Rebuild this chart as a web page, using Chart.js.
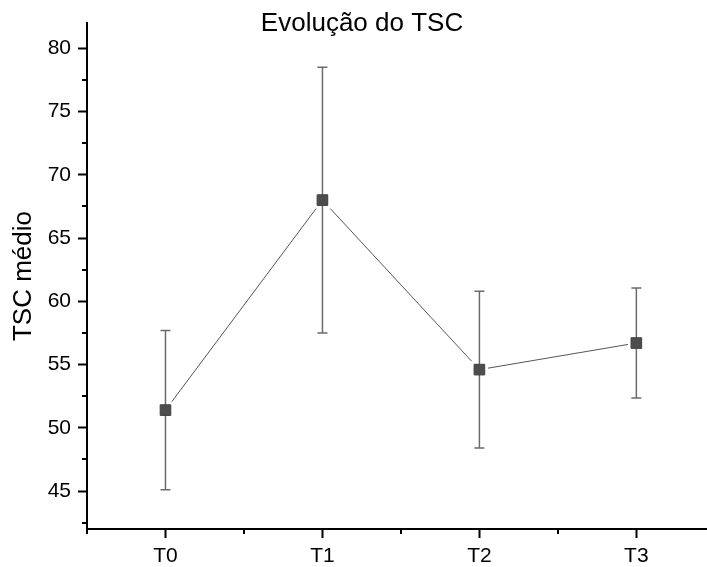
<!DOCTYPE html>
<html>
<head>
<meta charset="utf-8">
<script src="https://cdn.jsdelivr.net/npm/chart.js@4.4.1/dist/chart.umd.min.js"></script>
<style>
  html, body { margin: 0; padding: 0; background: #fff; overflow: hidden; }
  #wrap { width: 707px; height: 567px; }
</style>
</head>
<body>
<div id="wrap"><canvas id="tscChart" width="707" height="567"></canvas></div>
<script>
const times = ['T0', 'T1', 'T2', 'T3'];
const tscMean = [51.4, 68.0, 54.6, 56.7];
const tscErr = [6.3, 10.5, 6.2, 4.35];
const xTickValues = [-0.5, 0, 0.5, 1, 1.5, 2, 2.5, 3];
const yTickValues = [42.5, 45, 47.5, 50, 52.5, 55, 57.5, 60, 62.5, 65, 67.5, 70, 72.5, 75, 77.5, 80];

const FONT = 'Arial, "Liberation Sans", sans-serif';
const points = tscMean.map((v, i) => ({ x: i, y: v }));

// vertical error bars, drawn right after the white halo squares
const errorBars = {
  id: 'errorBars',
  afterDatasetDraw(chart, args) {
    if (args.index !== 1) return;
    const { ctx, scales: { x, y } } = chart;
    ctx.save();
    ctx.strokeStyle = '#6b6b6b';
    ctx.lineWidth = 1.5;
    tscMean.forEach((m, i) => {
      const px = x.getPixelForValue(i);
      const top = y.getPixelForValue(m + tscErr[i]);
      const bot = y.getPixelForValue(m - tscErr[i]);
      ctx.beginPath();
      ctx.moveTo(px, top); ctx.lineTo(px, bot);
      ctx.moveTo(px - 5, top); ctx.lineTo(px + 5, top);
      ctx.moveTo(px - 5, bot); ctx.lineTo(px + 5, bot);
      ctx.stroke();
    });
    ctx.restore();
  }
};

// short minor ticks and the title
const extras = {
  id: 'extras',
  afterDraw(chart) {
    const { ctx, chartArea, scales: { x, y } } = chart;
    ctx.save();
    ctx.strokeStyle = '#000';
    ctx.lineWidth = 2;
    ctx.beginPath();
    xTickValues.filter(v => !Number.isInteger(v)).forEach(v => {
      const px = Math.round(x.getPixelForValue(v));
      ctx.moveTo(px, chartArea.bottom);
      ctx.lineTo(px, chartArea.bottom + 5);
    });
    yTickValues.filter(v => v % 5 !== 0).forEach(v => {
      const py = Math.round(y.getPixelForValue(v));
      ctx.moveTo(chartArea.left, py);
      ctx.lineTo(chartArea.left - 5, py);
    });
    ctx.stroke();

    ctx.fillStyle = '#000';
    ctx.font = '26px ' + FONT;
    ctx.textAlign = 'center';
    ctx.textBaseline = 'alphabetic';
    ctx.fillText('Evolução do TSC', chartArea.left + 275, 31);
    ctx.restore();
  }
};

new Chart(document.getElementById('tscChart'), {
  type: 'line',
  data: {
    datasets: [
      {
        data: points,
        showLine: false,
        pointStyle: 'rect',
        pointRadius: 7.5,
        backgroundColor: '#4d4d4d',
        borderColor: '#3f3f3f',
        borderWidth: 1
      },
      {
        // white squares that open a small gap in the line around each marker
        data: points,
        showLine: false,
        pointStyle: 'rect',
        pointRadius: 12,
        backgroundColor: '#ffffff',
        borderWidth: 0
      },
      {
        data: points,
        borderColor: '#555555',
        borderWidth: 1,
        pointRadius: 0,
        tension: 0
      }
    ]
  },
  options: {
    responsive: false,
    animation: false,
    layout: { autoPadding: false, padding: { top: 23, left: 0, right: 0, bottom: 0 } },
    plugins: {
      legend: { display: false },
      tooltip: { enabled: false }
    },
    scales: {
      x: {
        type: 'linear',
        min: -0.5,
        max: 3.45,
        afterBuildTicks: s => { s.ticks = xTickValues.map(v => ({ value: v })); },
        afterFit: s => { s.height = 38; },
        ticks: {
          callback: v => Number.isInteger(v) ? times[v] : '',
          font: { family: FONT, size: 21 },
          color: '#000',
          padding: 6,
          maxRotation: 0,
          autoSkip: false
        },
        grid: {
          drawOnChartArea: false,
          tickLength: 9,
          tickWidth: 2,
          tickColor: c => Number.isInteger(c.tick.value) ? '#000' : 'rgba(0,0,0,0)'
        },
        border: { color: '#000', width: 2 }
      },
      y: {
        min: 42,
        max: 82,
        afterBuildTicks: s => { s.ticks = yTickValues.map(v => ({ value: v })); },
        afterFit: s => { s.width = 87; },
        ticks: {
          callback: v => v % 5 === 0 ? v : '',
          font: { family: FONT, size: 21 },
          color: '#000',
          padding: 7,
          autoSkip: false
        },
        grid: {
          drawOnChartArea: false,
          tickLength: 9,
          tickWidth: 2,
          tickColor: c => c.tick.value % 5 === 0 ? '#000' : 'rgba(0,0,0,0)'
        },
        border: { color: '#000', width: 2 },
        title: {
          display: true,
          text: 'TSC médio',
          font: { family: FONT, size: 26 },
          color: '#000',
          padding: { top: 8, bottom: 0 }
        }
      }
    }
  },
  plugins: [errorBars, extras]
});
</script>
</body>
</html>
